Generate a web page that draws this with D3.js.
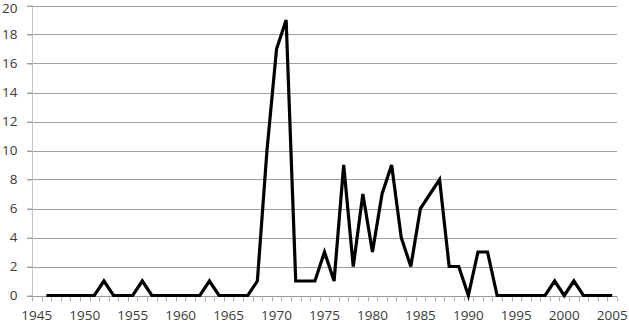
<!DOCTYPE html>
<html>
<head>
<meta charset="utf-8">
<script src="https://cdn.jsdelivr.net/npm/d3@7"></script>
<style>
  html, body { margin: 0; padding: 0; background: #fff; }
  svg { display: block; }
  text { font-family: "Open Sans", "Liberation Sans", sans-serif; }
</style>
</head>
<body>
<svg id="chart" width="629" height="324"></svg>
<script>
// ---- data ----
const categories = [1945,
  1946,1947,1948,1949,1950,1951,1952,1953,1954,1955,
  1956,1957,1958,1959,1960,1961,1962,1963,1964,1965,
  1966,1967,1968,1969,1970,1971,1972,1973,1974,1975,
  1976,1977,1978,1979,1980,1981,1982,1983,1984,1985,
  1986,1987,1988,1989,1990,1991,1992,1993,1994,1995,
  1996,1997,1998,1999,2000,2001,2002,2003,2004,2005];
const values = [null,
  0,0,0,0,0,0,1,0,0,0,
  1,0,0,0,0,0,0,1,0,0,
  0,0,1,10,17,19,1,1,1,3,
  1,9,2,7,3,7,9,4,2,6,
  7,8,2,2,0,3,3,0,0,0,
  0,0,0,1,0,1,0,0,0,0];
const xTickLabels = [1945,1950,1955,1960,1965,1970,1975,1980,1985,1990,1995,2000,2005];
const yTicks = [0,2,4,6,8,10,12,14,16,18,20];

// ---- layout ----
const svg = d3.select("#chart");
const plotLeft = 32, plotRight = 617, plotTop = 5.5, plotBottom = 295.5;

const x = d3.scaleBand().domain(categories).range([plotLeft, plotRight]).paddingInner(0).paddingOuter(0);
const xc = d => x(d) + x.bandwidth() / 2;
const y = d3.scaleLinear().domain([0, 20]).range([plotBottom, plotTop]);

// gridlines
svg.append("g").selectAll("line").data(yTicks.filter(d => d > 0)).join("line")
  .attr("x1", plotLeft - 5).attr("x2", plotRight)
  .attr("y1", d => Math.round(y(d)) + 0.5).attr("y2", d => Math.round(y(d)) + 0.5)
  .attr("stroke", "#a0a0a0").attr("stroke-width", 1);

// y axis
const yAxis = svg.append("g").attr("transform", `translate(${plotLeft + 0.5},0)`)
  .call(d3.axisLeft(y).tickValues(yTicks).tickSize(5).tickPadding(10).tickFormat(d3.format("d")));
yAxis.select(".domain").attr("stroke", "#c4c4c4").attr("d", `M0,${plotTop}V${plotBottom}`);
yAxis.selectAll(".tick line").attr("stroke", "#a0a0a0");
yAxis.selectAll(".tick text").attr("fill", "#3a3a3a").style("font-size", "13.5px")
  .attr("x", -15)
  .attr("y", d => d === 20 ? 2.5 : 0);

// x axis
const xg = svg.append("g").attr("transform", `translate(0,${Math.round(plotBottom) + 0.5})`);
xg.append("line").attr("x1", plotLeft - 5).attr("x2", plotRight).attr("y1", 0).attr("y2", 0)
  .attr("stroke", "#999");
const boundaries = categories.map(c => x(c)).concat([plotRight]);
xg.selectAll("line.tk").data(boundaries).join("line").attr("class", "tk")
  .attr("x1", d => Math.round(d) + 0.5).attr("x2", d => Math.round(d) + 0.5)
  .attr("y1", 0).attr("y2", 5).attr("stroke", "#b0b0b0");
xg.selectAll("text").data(xTickLabels).join("text")
  .attr("x", d => xc(d)).attr("y", 23.5)
  .attr("text-anchor", "middle").attr("fill", "#3a3a3a").style("font-size", "13.5px")
  .text(d => d);

// line
const line = d3.line()
  .defined(d => d.v !== null)
  .x(d => xc(d.c)).y(d => y(d.v));
svg.append("path")
  .datum(categories.map((c, i) => ({c, v: values[i]})))
  .attr("d", line)
  .attr("fill", "none").attr("stroke", "#000").attr("stroke-width", 3.2)
  .attr("stroke-linejoin", "miter").attr("stroke-miterlimit", 4);
</script>
</body>
</html>
